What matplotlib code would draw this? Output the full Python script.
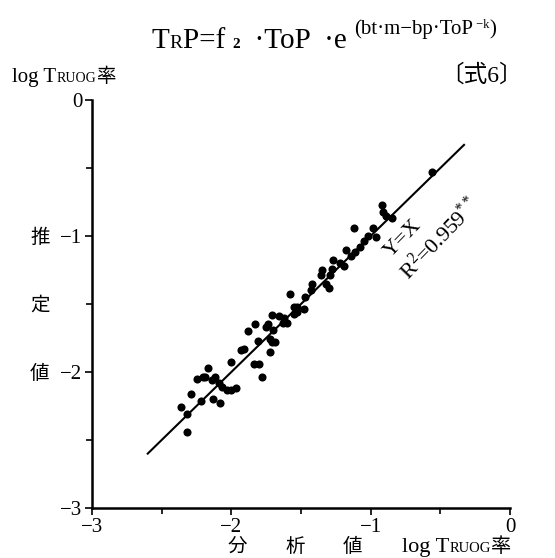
import matplotlib
matplotlib.use("Agg")
import matplotlib.pyplot as plt
from matplotlib.ticker import MultipleLocator, FuncFormatter

plt.rcParams["font.family"] = ["Liberation Serif", "Noto Sans CJK JP"]
plt.rcParams["mathtext.fontset"] = "custom"
plt.rcParams["mathtext.rm"] = "Liberation Serif"
plt.rcParams["mathtext.it"] = "Liberation Serif"

# analysed (x) vs. estimated (y), log TRUOG rate
analysed = [-2.32, -2.36, -2.32, -2.29, -2.22, -2.17, -2.19, -2.13, -2.08, -2.12,
            -2.09, -2.07, -2.03, -2.00, -1.97, -2.14, -2.00, -1.91, -1.88, -1.83,
            -1.81, -1.84, -1.80, -1.78, -1.72, -1.71, -1.69, -1.74, -1.71, -1.66,
            -1.70, -1.60, -1.55, -1.53, -1.93, -1.75, -0.56, -0.92, -0.91, -0.89,
            -0.85, -0.98, -0.96, -1.02, -1.05, -1.12, -1.08, -1.11, -1.14, -1.18,
            -1.22, -1.19, -1.27, -1.28, -1.29, -1.35, -1.36, -1.32, -1.30, -1.42,
            -1.43, -1.47, -1.58, -1.53, -1.48, -1.55, -1.63, -1.62, -1.72, -2.20,
            -2.25]
estimated = [-2.44, -2.26, -2.31, -2.16, -2.21, -1.97, -2.04, -2.20, -2.23, -2.04,
             -2.08, -2.11, -2.13, -2.13, -2.12, -2.06, -1.93, -1.83, -1.70, -1.65,
             -1.77, -1.94, -1.94, -2.04, -1.85, -1.78, -1.78, -1.65, -1.58, -1.59,
             -1.69, -1.64, -1.52, -1.56, -1.84, -1.67, -0.53, -0.77, -0.82, -0.85,
             -0.87, -0.94, -1.01, -1.00, -1.04, -0.94, -1.08, -1.12, -1.15, -1.10,
             -1.20, -1.22, -1.18, -1.24, -1.29, -1.25, -1.29, -1.35, -1.38, -1.35,
             -1.40, -1.45, -1.43, -1.52, -1.54, -1.57, -1.64, -1.60, -1.76, -2.04,
             -2.05]
line_range = [-2.6, -0.33]
r2_text = r"R$^{2}$=0.959$^{**}$"

W, H = 555, 558
fig = plt.figure(figsize=(W / 100, H / 100), dpi=100)
ax = fig.add_axes([92 / W, 1 - 508 / H, 418 / W, 408 / H])
renderer = fig.canvas.get_renderer()


def chain(x, y, pieces):
    # write text pieces one after another, starting at pixel (x, y) from top-left
    for s, size, dy, kw in pieces:
        t = fig.text(x / W, 1 - (y + dy) / H, s, fontsize=size,
                     va="baseline", ha="left", **kw)
        x += t.get_window_extent(renderer).width
    return x


ax.plot(line_range, line_range, color="black", lw=1.5, zorder=2)
ax.scatter(analysed, estimated, s=34, color="black", zorder=3, linewidths=0)

ax.set_xlim(-3, 0)
ax.set_ylim(-3, 0)
for side in ("top", "right"):
    ax.spines[side].set_visible(False)
for side in ("left", "bottom"):
    ax.spines[side].set_linewidth(1.8)

fmt = FuncFormatter(lambda v, p: "0" if abs(v) < 1e-9 else "\u2212%d" % abs(round(v)))
for axis in (ax.xaxis, ax.yaxis):
    axis.set_major_locator(MultipleLocator(1))
    axis.set_minor_locator(MultipleLocator(0.5))
    axis.set_major_formatter(fmt)
ax.tick_params(which="both", direction="out", width=1.2, labelsize=15, pad=2)
ax.tick_params(which="major", length=5)
ax.tick_params(which="minor", length=4)

ax.text(-0.77, -1.02, "Y=X", rotation=46, fontsize=16, ha="center", va="center",
        rotation_mode="anchor")
ax.text(-0.50, -1.02, r2_text, rotation=46, fontsize=16, ha="center", va="center",
        rotation_mode="anchor")

# formula on top
chain(152, 48, [("T", 21, 0, {}), ("R", 14, 0, {}), ("P=f ", 21, 0, {}),
                ("2", 11, 0, {"fontweight": "bold"}), ("  \u00b7ToP  \u00b7e ", 21, 0, {}),
                ("(bt\u00b7m\u2212bp\u00b7ToP", 15, -14, {}),
                (" \u2212k", 9, -20, {}), (")", 15, -14, {})])

# y-axis caption
chain(12, 82, [("log T", 15, 0, {}), ("RUOG", 10, 0, {}), ("率", 14, 0, {})])
chain(440, 82, [("〔式6〕", 17, 0, {})])
for ch, yy in zip("推定値", (243, 311, 379)):
    fig.text(30 / W, 1 - yy / H, ch, fontsize=14, va="baseline")

# x-axis caption
for ch, xx in zip("分析値", (228, 285, 343)):
    fig.text(xx / W, 1 - 552 / H, ch, fontsize=14, va="baseline")
chain(402, 552, [("log T", 16, 0, {}), ("RUOG", 10.5, 0, {}), ("率", 14.5, 0, {})])

fig.savefig("out.png", dpi=100, facecolor="white")
